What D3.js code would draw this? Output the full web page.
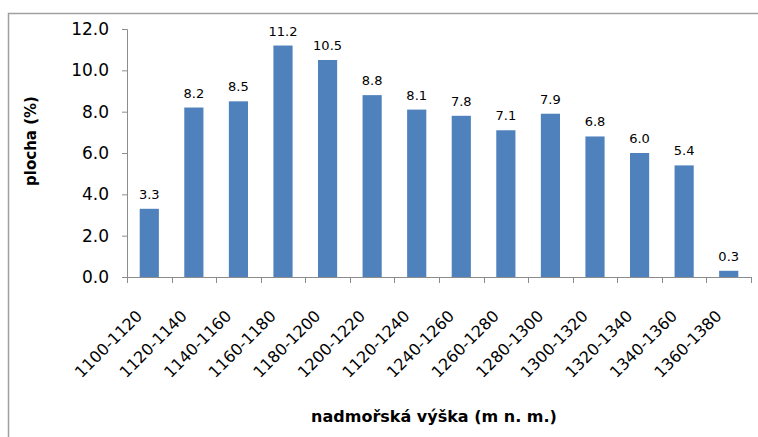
<!DOCTYPE html>
<html lang="cs">
<head>
<meta charset="UTF-8">
<script src="https://d3js.org/d3.v7.min.js"></script>
<style>
    body { margin: 0; background: #fff; }
    text { font-family: "DejaVu Sans", sans-serif; fill: #000; }
</style>
</head>
<body>
<div id="chart"></div>
<script>
    // altitude bands (the repeated 1120-1240 is as in the source)
    var categories = ["1100-1120", "1120-1140", "1140-1160", "1160-1180", "1180-1200", "1200-1220",
        "1120-1240", "1240-1260", "1260-1280", "1280-1300", "1300-1320", "1320-1340", "1340-1360", "1360-1380"];
    var values = [3.3, 8.2, 8.5, 11.2, 10.5, 8.8, 8.1, 7.8, 7.1, 7.9, 6.8, 6.0, 5.4, 0.3];
    var yTicks = [0, 2, 4, 6, 8, 10, 12];

    var W = 758, H = 437;
    var margin = { top: 29, right: 7, bottom: 160, left: 127 };
    var width = W - margin.left - margin.right,
        height = H - margin.top - margin.bottom;

    var svg = d3.select("#chart").append("svg")
        .attr("width", W)
        .attr("height", H);

    // outer chart frame (runs off the right and bottom edges)
    svg.append("rect")
        .attr("x", 8.5).attr("y", 13.5)
        .attr("width", W).attr("height", H)
        .attr("fill", "none")
        .attr("stroke", "#a0a0a0")
        .attr("stroke-width", 1.5);

    var g = svg.append("g")
        .attr("transform", "translate(" + margin.left + "," + margin.top + ")");

    var x = d3.scaleBand()
        .domain(categories)
        .range([0, width])
        .paddingInner(0.57)
        .paddingOuter(0.285);

    var y = d3.scaleLinear()
        .domain([0, 12])
        .range([height, 0]);

    // y axis
    var yAxis = g.append("g")
        .call(d3.axisLeft(y).tickValues(yTicks).tickFormat(d3.format(".1f")).tickSize(5).tickPadding(13));
    yAxis.select(".domain").attr("stroke", "#8c8c8c").attr("d", "M-5,0.5H0.5V" + (height + 0.5) + "H-5");
    yAxis.selectAll(".tick line").attr("stroke", "#8c8c8c");
    yAxis.selectAll(".tick text").style("font-size", "17px");

    // x axis with ticks on band boundaries
    var step = x.step();
    var xAxis = g.append("g")
        .attr("transform", "translate(0," + height + ")");
    xAxis.append("line")
        .attr("x1", 0).attr("x2", width)
        .attr("y1", 0.5).attr("y2", 0.5)
        .attr("stroke", "#8c8c8c");
    xAxis.selectAll(".xt")
        .data(d3.range(categories.length + 1))
        .enter().append("line")
        .attr("class", "xt")
        .attr("x1", function (i) { return Math.round(i * step) + 0.5; })
        .attr("x2", function (i) { return Math.round(i * step) + 0.5; })
        .attr("y1", 0).attr("y2", 6)
        .attr("stroke", "#8c8c8c");
    xAxis.selectAll(".xl")
        .data(categories)
        .enter().append("text")
        .attr("class", "xl")
        .attr("text-anchor", "end")
        .style("font-size", "16px")
        .attr("transform", function (d) {
            return "translate(" + (x(d) + x.bandwidth() / 2 - 6) + ",40) rotate(-45)";
        })
        .text(function (d) { return d; });

    // bars
    g.selectAll(".bar")
        .data(values)
        .enter().append("rect")
        .attr("class", "bar")
        .attr("x", function (d, i) { return x(categories[i]); })
        .attr("y", function (d) { return y(d); })
        .attr("width", x.bandwidth())
        .attr("height", function (d) { return height - y(d); })
        .attr("fill", "#4f81bd");

    // value labels
    g.selectAll(".val")
        .data(values)
        .enter().append("text")
        .attr("class", "val")
        .attr("text-anchor", "middle")
        .style("font-size", "13px")
        .attr("x", function (d, i) { return x(categories[i]) + x.bandwidth() / 2; })
        .attr("y", function (d) { return y(d) - 10; })
        .text(function (d) { return d3.format(".1f")(d); });

    // axis titles
    svg.append("text")
        .attr("text-anchor", "middle")
        .style("font-size", "16px")
        .style("font-weight", "bold")
        .attr("x", 434).attr("y", 422)
        .text("nadmořská výška (m n. m.)");

    svg.append("text")
        .attr("text-anchor", "middle")
        .style("font-size", "15px")
        .style("font-weight", "bold")
        .attr("transform", "translate(36,141) rotate(-90)")
        .text("plocha (%)");
</script>
</body>
</html>
